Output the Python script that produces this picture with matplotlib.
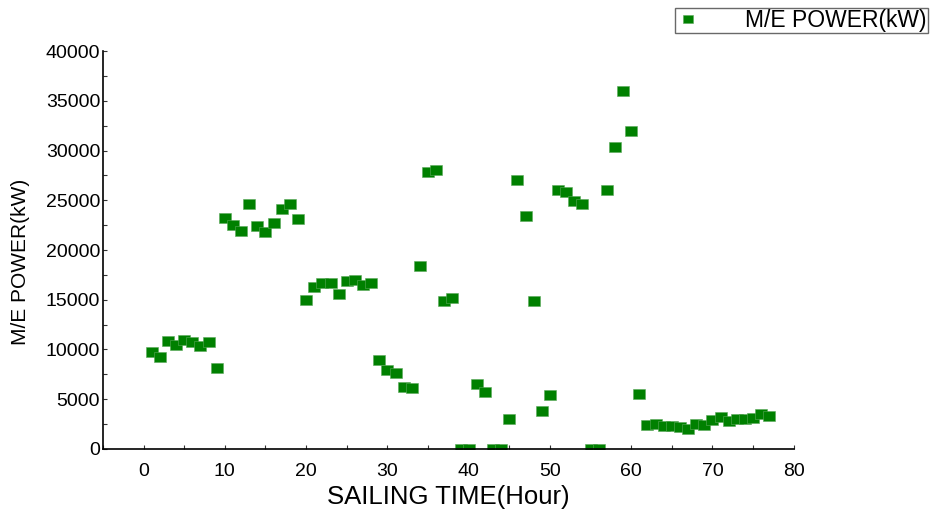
import numpy as np
import matplotlib
matplotlib.use('Agg')
import matplotlib.pyplot as plt
from matplotlib.ticker import MultipleLocator

plt.rcParams.update({'font.family': ['Liberation Sans', 'DejaVu Sans'], 'figure.dpi': 100})

# sailing hour and main engine power
hours = list(range(1, 78))
power_kw = [
    9700, 9200, 10900, 10400, 11000, 10800, 10300, 10700, 8100,
    23200, 22500, 21900, 24600, 22400, 21800, 22700, 24100, 24600, 23100,
    15000, 16300, 16700, 16700, 15600, 16900, 17000, 16500, 16700,
    8900, 7900, 7600, 6200, 6100, 18400, 27800, 28000, 14900, 15200,
    0, 0, 6500, 5700, 0, 0, 3000, 27000, 23400, 14900, 3800, 5400,
    26000, 25800, 24900, 24600, 0, 0, 26000, 30400, 36000, 32000, 5500,
    2400, 2500, 2350, 2350, 2250, 2000, 2500, 2450, 2900, 3200,
    2800, 3050, 3050, 3150, 3550, 3300,
]

GREEN = '#008000'
# slightly wide square marker
box = [(-1, -0.8), (1, -0.8), (1, 0.8), (-1, 0.8), (-1, -0.8)]

fig = plt.figure(figsize=(9.36, 5.16))
ax = fig.add_axes([0.110, 0.130, 0.738, 0.771])
ax.plot(hours, power_kw, linestyle='none', marker=box, ms=8.3, color=GREEN,
        mec='#5aa85a', mew=0.4, label='M/E POWER(kW)')

ax.set_xlim(-5, 80)
ax.set_ylim(0, 40000)
ax.xaxis.set_major_locator(MultipleLocator(10))
ax.xaxis.set_minor_locator(MultipleLocator(5))
ax.yaxis.set_major_locator(MultipleLocator(5000))
ax.yaxis.set_minor_locator(MultipleLocator(2500))
ax.tick_params(which='both', direction='in', length=3, width=0.8, color='#333333')
ax.tick_params(axis='y', labelsize=14, pad=2)
ax.tick_params(axis='x', labelsize=14, pad=10)
for s in ['top', 'right']:
    ax.spines[s].set_visible(False)
for s in ['left', 'bottom']:
    ax.spines[s].set_linewidth(1.2)

ax.set_xlabel('SAILING TIME(Hour)', fontsize=18.5)
ax.xaxis.label.set_va('center')
ax.xaxis.set_label_coords(0.5, -0.12)
ax.set_ylabel('M/E POWER(kW)', fontsize=15)
ax.yaxis.label.set_va('center')
ax.yaxis.set_label_coords(-0.12, 0.47)

leg = fig.legend(loc='upper right', bbox_to_anchor=(928 / 936, 1 - 8 / 516),
                 fontsize=16.5, frameon=True, fancybox=False, markerscale=0.95,
                 handlelength=1.0, handletextpad=2.0, borderpad=0.05,
                 borderaxespad=0)
leg.get_frame().set_edgecolor('#444444')
leg.get_frame().set_linewidth(1.0)

fig.savefig('out.png', dpi=100)
